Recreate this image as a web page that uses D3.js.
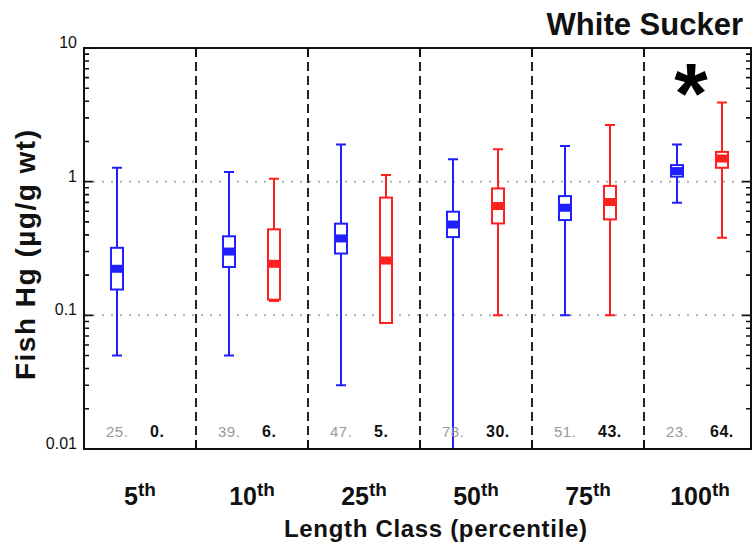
<!DOCTYPE html>
<html><head><meta charset="utf-8">
<script src="https://cdn.jsdelivr.net/npm/d3@7"></script>
<style>body{margin:0;background:#fff} svg{display:block}</style>
</head><body><svg id="c" width="753" height="546"></svg>
<script>
const categories = ["5", "10", "25", "50", "75", "100"];
const groups = ["blue", "red"];
// [min, q1, median, q3, max]  Fish Hg (µg/g wt)
const blueStats = [
  [0.050, 0.156, 0.223, 0.32, 1.27],
  [0.050, 0.23, 0.30, 0.39, 1.18],
  [0.030, 0.29, 0.376, 0.485, 1.9],
  [0.009, 0.385, 0.478, 0.596, 1.47],
  [0.10, 0.516, 0.638, 0.78, 1.85],
  [0.696, 1.09, 1.2, 1.33, 1.9]
];
const redStats = [
  null,
  [0.128, 0.131, 0.243, 0.44, 1.05],
  [0.090, 0.0876, 0.257, 0.76, 1.12],
  [0.10, 0.487, 0.657, 0.89, 1.75],
  [0.10, 0.522, 0.704, 0.93, 2.65],
  [0.38, 1.27, 1.49, 1.67, 3.91]
];
const blueN = ["25.", "39.", "47.", "78.", "51.", "23."];
const redN = ["0.", "6.", "5.", "30.", "43.", "64."];
const yTickValues = [0.01, 0.1, 1, 10];
const yTickLabels = ["0.01", "0.1", "1", "10"];
const gridValues = [0.1, 1];
const significant = [false, false, false, false, false, true];

const FONT = "'Liberation Sans', Arial, Helvetica, sans-serif";
const colors = {blue: "#1f1fff", red: "#ff2020"};
const L = 84, R = 751, T = 48, B = 449;

const svg = d3.select("#c");
const x = d3.scaleBand().domain(categories).range([L, 756]);
const xs = d3.scalePoint().domain(groups).range([33, 78]);
const y = d3.scaleLog().domain([0.01, 10]).range([B, T]);

svg.append("defs").append("clipPath").attr("id", "clip")
  .append("rect").attr("x", L).attr("y", T).attr("width", R - L).attr("height", B - T);

// gridlines
svg.append("g").selectAll("line").data(gridValues).join("line")
  .attr("x1", L).attr("x2", R).attr("y1", d => y(d)).attr("y2", d => y(d))
  .attr("stroke", "#b0b0b0").attr("stroke-width", 2).attr("stroke-dasharray", "2,7");

// separators
const seps = categories.slice(1);
svg.append("g").selectAll("line").data(seps).join("line")
  .attr("x1", d => x(d)).attr("x2", d => x(d)).attr("y1", T).attr("y2", B)
  .attr("stroke", "#222").attr("stroke-width", 2).attr("stroke-dasharray", "9,5");
svg.append("g").selectAll("path").data(seps).join("path")
  .attr("d", d => `M${x(d)},${T}V${T + 9}M${x(d)},${B}V${B - 9}`)
  .attr("stroke", "#111").attr("stroke-width", 2);

// y ticks (minor + major) on both sides
const allTicks = y.ticks();
const isMajor = v => Math.abs(Math.log10(v) - Math.round(Math.log10(v))) < 1e-9;
svg.append("g").selectAll("path").data(allTicks).join("path")
  .attr("d", d => {
    const len = isMajor(d) ? 9 : 5;
    return `M${L},${y(d)}H${L + len}M${R},${y(d)}H${R - len}`;
  })
  .attr("stroke", "#111").attr("stroke-width", 1.6);

// boxes
const plot = svg.append("g").attr("clip-path", "url(#clip)");
function drawBoxes(stats, g) {
  const data = stats.map((s, i) => s ? {s, c: categories[i]} : null).filter(d => d);
  const gg = plot.append("g").selectAll("g").data(data).join("g")
    .attr("transform", d => `translate(${x(d.c) + xs(g)},0)`);
  const col = colors[g];
  gg.append("line").attr("x1", 0).attr("x2", 0)
    .attr("y1", d => y(d.s[0])).attr("y2", d => y(d.s[4]))
    .attr("stroke", col).attr("stroke-width", 2);
  gg.append("path")
    .attr("d", d => `M-5,${y(d.s[0])}H5M-5,${y(d.s[4])}H5`)
    .attr("stroke", col).attr("stroke-width", 2);
  gg.append("rect").attr("x", -6).attr("width", 12)
    .attr("y", d => y(d.s[3])).attr("height", d => y(d.s[1]) - y(d.s[3]))
    .attr("fill", "#fff").attr("stroke", col).attr("stroke-width", 2);
  gg.append("rect").attr("x", -6).attr("width", 12)
    .attr("y", d => y(d.s[2]) - 4).attr("height", 8)
    .attr("fill", col);
}
drawBoxes(blueStats, "blue");
drawBoxes(redStats, "red");

// frame
svg.append("rect").attr("x", L).attr("y", T).attr("width", R - L).attr("height", B - T)
  .attr("fill", "none").attr("stroke", "#111").attr("stroke-width", 2);

// counts
svg.append("g").selectAll("text").data(blueN).join("text")
  .attr("x", (d, i) => x(categories[i]) + xs("blue") - 11).attr("y", 437)
  .attr("font-family", FONT).attr("font-size", 15).attr("fill", "#999")
  .attr("letter-spacing", 0.5).text(d => d);
svg.append("g").selectAll("text").data(redN).join("text")
  .attr("x", (d, i) => x(categories[i]) + xs("red") - 12).attr("y", 437)
  .attr("font-family", FONT).attr("font-size", 16).attr("font-weight", "bold").attr("fill", "#111")
  .attr("letter-spacing", 0.5).text(d => d);

// y tick labels
svg.append("g").selectAll("text").data(yTickValues).join("text")
  .attr("x", 77).attr("y", d => y(d))
  .attr("text-anchor", "end").attr("font-family", FONT).attr("font-size", 16).attr("fill", "#111")
  .text((d, i) => yTickLabels[i]);

// x category labels
const xl = svg.append("g").selectAll("text").data(categories).join("text")
  .attr("x", d => x(d) + x.bandwidth() / 2).attr("y", 505)
  .attr("text-anchor", "middle").attr("font-family", FONT).attr("font-weight", "bold").attr("fill", "#111");
xl.append("tspan").attr("font-size", 25).text(d => d);
xl.append("tspan").attr("font-size", 19).attr("dy", -9).text("th");

// axis titles
svg.append("text").attr("x", 284).attr("y", 537)
  .attr("font-family", FONT).attr("font-size", 24).attr("font-weight", "bold").attr("fill", "#111")
  .attr("textLength", 303).attr("lengthAdjust", "spacing")
  .text("Length Class (percentile)");
svg.append("text").attr("transform", "translate(35,255) rotate(-90)")
  .attr("text-anchor", "middle")
  .attr("font-family", FONT).attr("font-size", 28).attr("font-weight", "bold").attr("fill", "#111")
  .attr("textLength", 250).attr("lengthAdjust", "spacing")
  .text("Fish Hg (µg/g wt)");

// title
svg.append("text").attr("x", 743).attr("y", 35).attr("text-anchor", "end")
  .attr("font-family", FONT).attr("font-size", 31).attr("font-weight", "bold").attr("fill", "#111")
  .text("White Sucker");

// significance marker
svg.append("g").selectAll("text").data(categories.filter((c, i) => significant[i])).join("text")
  .attr("x", d => x(d) + 47).attr("y", 123).attr("text-anchor", "middle")
  .attr("font-family", FONT).attr("font-size", 86).attr("font-weight", "bold").attr("fill", "#000")
  .text("*");
</script></body></html>
